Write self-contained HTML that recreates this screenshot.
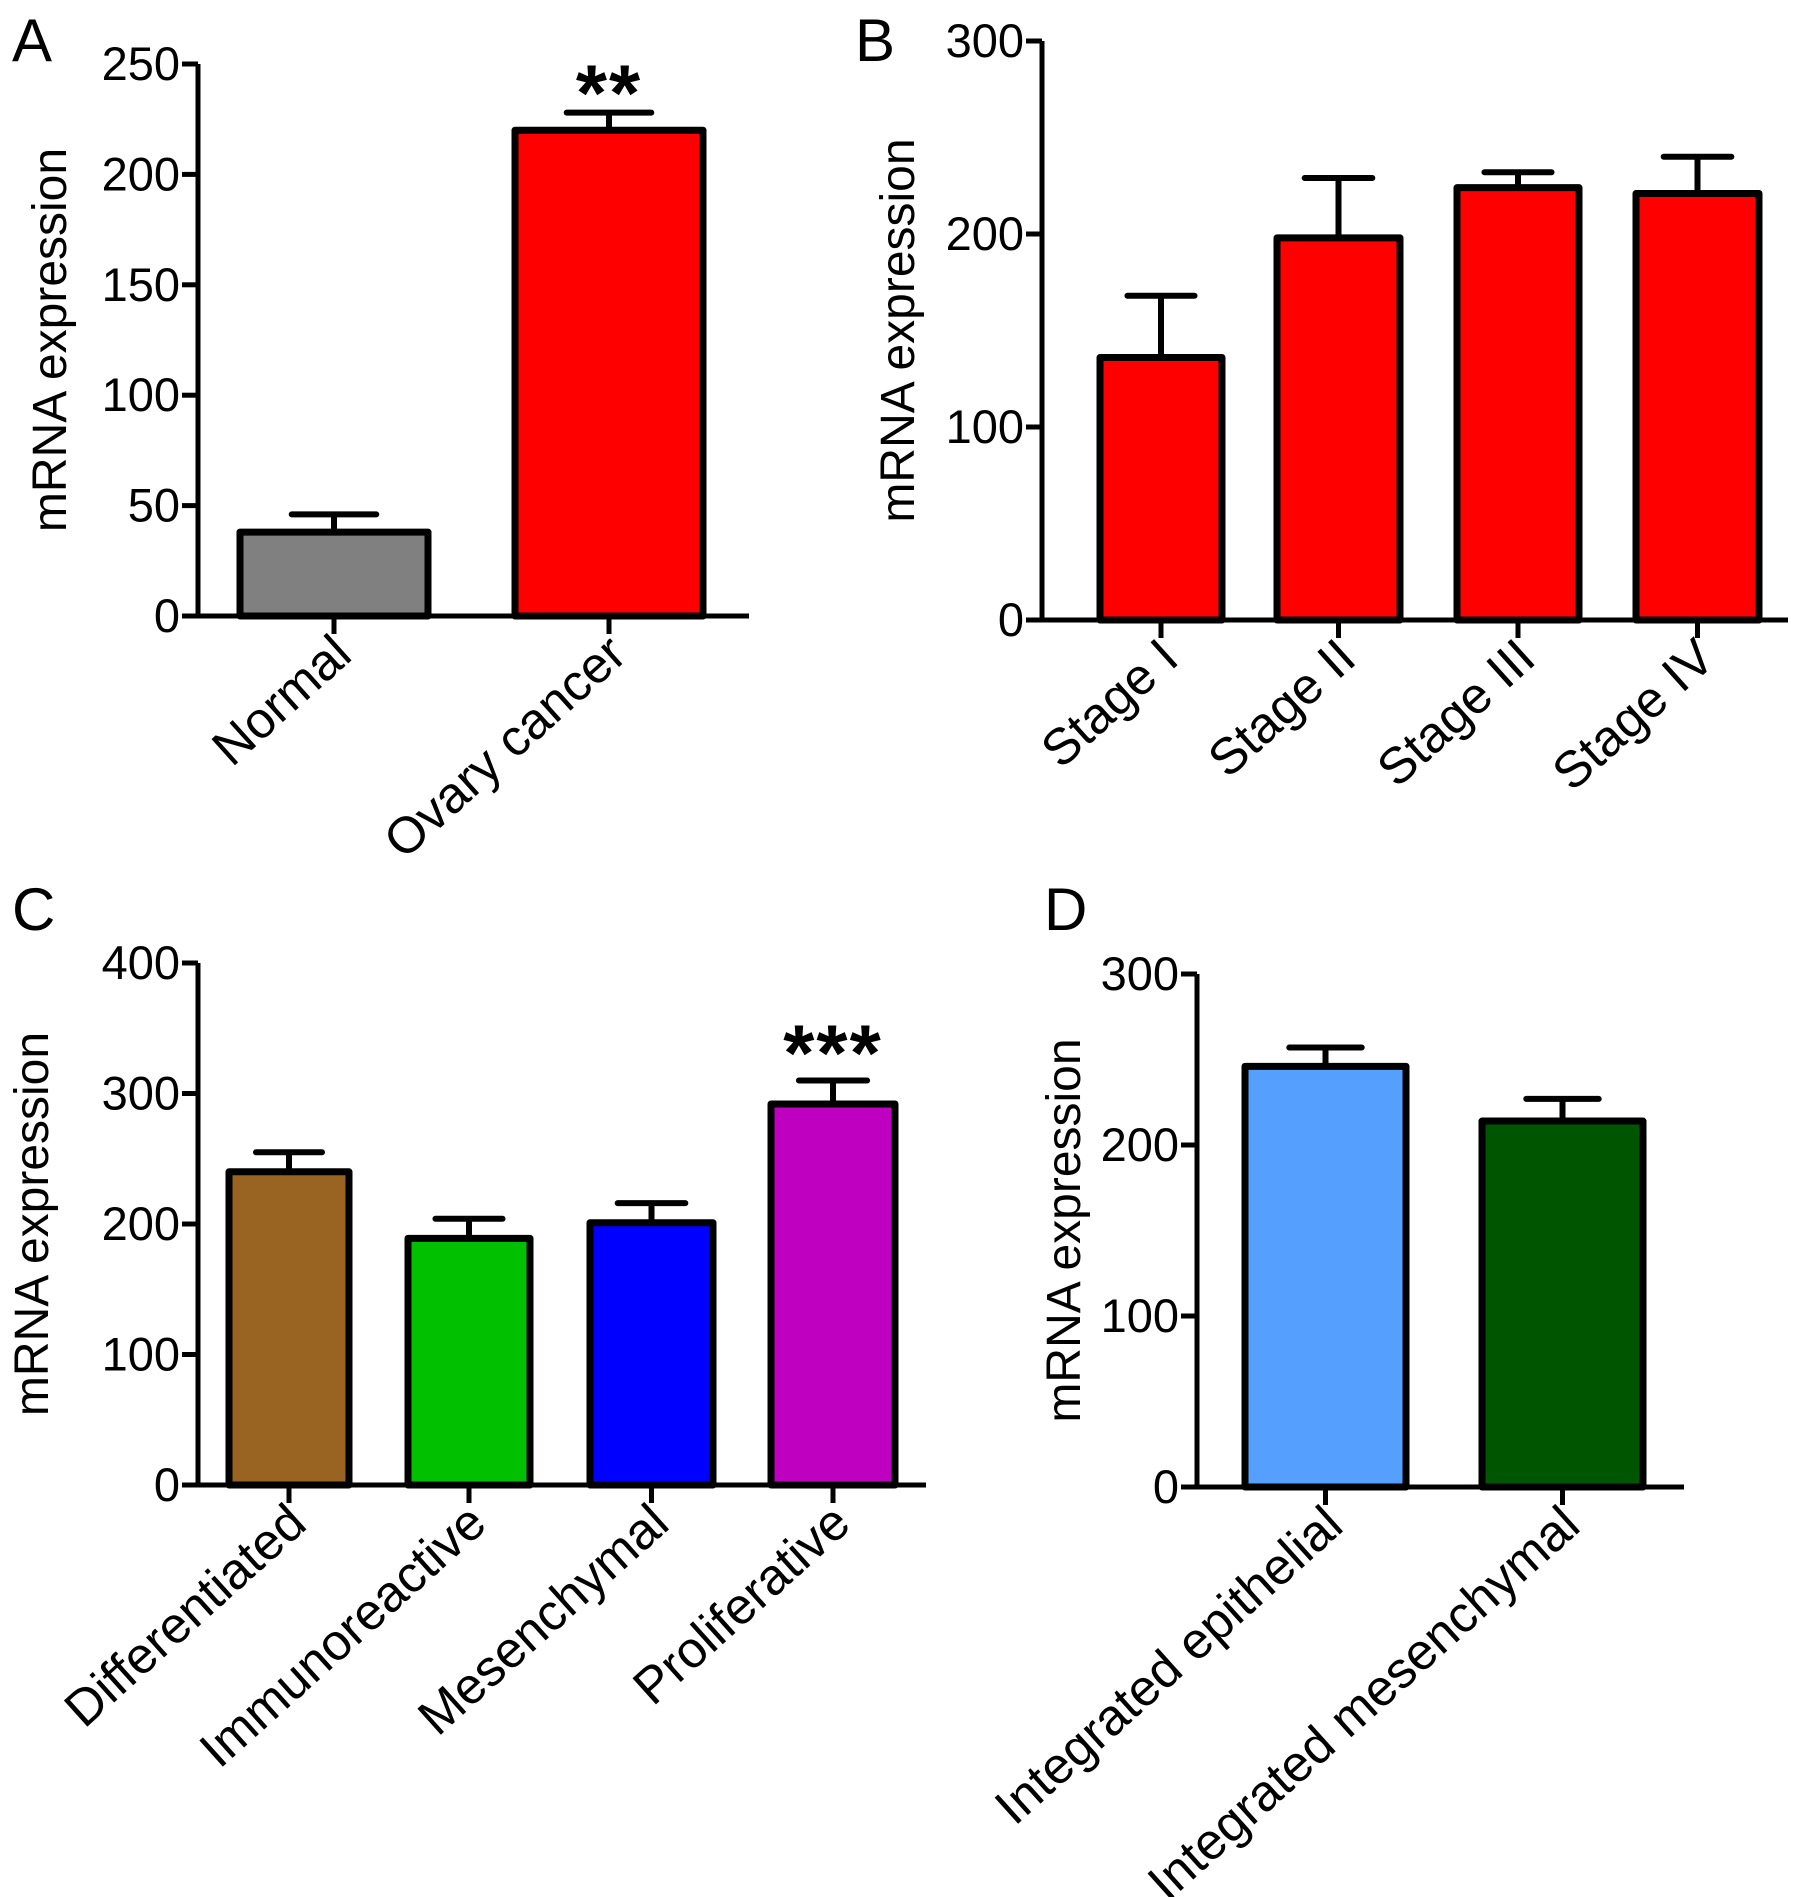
<!DOCTYPE html>
<html><head><meta charset="utf-8"><style>
html,body{margin:0;padding:0;background:#fff;}
svg{display:block;font-family:"Liberation Sans",Arial,sans-serif;}
</style></head><body>
<svg id="fig" width="1795" height="1897" viewBox="0 0 1795 1897" xmlns="http://www.w3.org/2000/svg">
<rect width="1795" height="1897" fill="#fff"/>
</svg>
<script>
// Panel A
const aCategories = ["Normal", "Ovary cancer"];
const aValues = [38, 220];
const aErrors = [8, 8];
const aColors = ["#808080", "#ff0000"];
const aTicks = [0, 50, 100, 150, 200, 250];
// Panel B
const bCategories = ["Stage I", "Stage II", "Stage III", "Stage IV"];
const bValues = [136, 198, 224, 221];
const bErrors = [32, 31, 8, 19];
const bColors = ["#ff0000", "#ff0000", "#ff0000", "#ff0000"];
const bTicks = [0, 100, 200, 300];
// Panel C
const cCategories = ["Differentiated", "Immunoreactive", "Mesenchymal", "Proliferative"];
const cValues = [240, 189, 201, 292];
const cErrors = [15, 15, 15, 18];
const cColors = ["#996322", "#00c000", "#0000ff", "#c000c0"];
const cTicks = [0, 100, 200, 300, 400];
// Panel D
const dCategories = ["Integrated epithelial", "Integrated mesenchymal"];
const dValues = [246, 214];
const dErrors = [11, 13];
const dColors = ["#55a0ff", "#005500"];
const dTicks = [0, 100, 200, 300];

const NS = "http://www.w3.org/2000/svg";
const svg = document.getElementById("fig");
function mk(tag, attrs, parent) {
  const e = document.createElementNS(NS, tag);
  for (const k in attrs) e.setAttribute(k, attrs[k]);
  (parent || svg).appendChild(e);
  return e;
}

function panel(cfg) {
  const g = mk("g", {});
  
  
  const max = cfg.ticks[cfg.ticks.length - 1];
  const y = v => cfg.y0 - (v / max) * (cfg.y0 - cfg.yTop);
  const n = cfg.cats.length;
  const L = mk("text", {x: cfg.letterX, y: cfg.letterY, "font-size": 60, fill: "#000"}, g);
  L.textContent = cfg.id.toUpperCase();
  
  
  const T = mk("text", {x: 0, y: 0, "font-size": 48, "text-anchor": "middle", transform: `translate(${cfg.titleX},${(cfg.y0 + cfg.yTop) / 2}) rotate(-90)`}, g);
  T.textContent = "mRNA expression";
  
  
  for (let i = 0; i < n; i++) {
    const x1 = cfg.barL[i], x2 = cfg.barR[i], cx = (x1 + x2) / 2;
    const cap = (x2 - x1) * cfg.capFrac / 2;
    const top = y(cfg.vals[i]), et = y(cfg.vals[i] + cfg.errs[i]);
    const eb = mk("path", {d: `M${cx},${top} V${et} M${cx - cap},${et} H${cx + cap}`, stroke: "#000", "stroke-width": 6, "stroke-linecap": "round", fill: "none"}, g);
    
    
    const r = mk("rect", {x: x1, y: top, width: x2 - x1, height: cfg.y0 - top, fill: cfg.colors[i], stroke: "#000", "stroke-width": 7, "stroke-linejoin": "round"}, g);
    
    
    const tk = mk("line", {x1: cx, x2: cx, y1: cfg.y0, y2: cfg.y0 + 18, stroke: "#000", "stroke-width": 5}, g);
    
    
    const lb = mk("text", {x: 0, y: 0, "font-size": 51, "text-anchor": "end", transform: `translate(${cx + 20},${cfg.y0 + 42}) rotate(-42)`}, g);
    lb.textContent = cfg.cats[i];
    
    
    if (cfg.star && cfg.star[i]) {
      const s = mk("text", {x: cx, y: et + cfg.starOff, "font-size": 80, "font-weight": "bold", "text-anchor": "middle", "letter-spacing": 2}, g);
      s.textContent = cfg.star[i];
      
      
    }
  }
  const ax = mk("path", {d: `M${cfg.axisX},${cfg.yTop} V${cfg.y0} H${cfg.xEnd}`, stroke: "#000", "stroke-width": 5, fill: "none"}, g);
  
  
  cfg.ticks.forEach(t => {
    const yy = y(t);
    const l = mk("line", {x1: cfg.axisX - 16, x2: cfg.axisX, y1: yy, y2: yy, stroke: "#000", "stroke-width": 5}, g);
    
    
    const tx = mk("text", {x: cfg.axisX - 18, y: yy + 16, "font-size": 47, "text-anchor": "end"}, g);
    tx.textContent = t;
    
    
  });
}

panel({id: "a", cats: aCategories, vals: aValues, errs: aErrors, colors: aColors, ticks: aTicks,
  axisX: 198, xEnd: 749, y0: 616, yTop: 64, barL: [240, 515], barR: [428, 703], capFrac: 0.45,
  titleX: 66, letterX: 12, letterY: 61, star: ["", "**"], starOff: 8});
panel({id: "b", cats: bCategories, vals: bValues, errs: bErrors, colors: bColors, ticks: bTicks,
  axisX: 1042, xEnd: 1788, y0: 620, yTop: 41, barL: [1100, 1277, 1457, 1636], barR: [1222, 1400, 1579, 1759], capFrac: 0.55,
  titleX: 914, letterX: 855, letterY: 61});
panel({id: "c", cats: cCategories, vals: cValues, errs: cErrors, colors: cColors, ticks: cTicks,
  axisX: 198, xEnd: 926, y0: 1485, yTop: 963, barL: [229, 408, 590, 771], barR: [349, 530, 713, 895], capFrac: 0.55,
  titleX: 48, letterX: 12, letterY: 930, star: ["", "", "", "***"], starOff: 0});
panel({id: "d", cats: dCategories, vals: dValues, errs: dErrors, colors: dColors, ticks: dTicks,
  axisX: 1197, xEnd: 1684, y0: 1487, yTop: 974, barL: [1245, 1482], barR: [1406, 1643], capFrac: 0.45,
  titleX: 1080, letterX: 1044, letterY: 930});
</script>
</body></html>
